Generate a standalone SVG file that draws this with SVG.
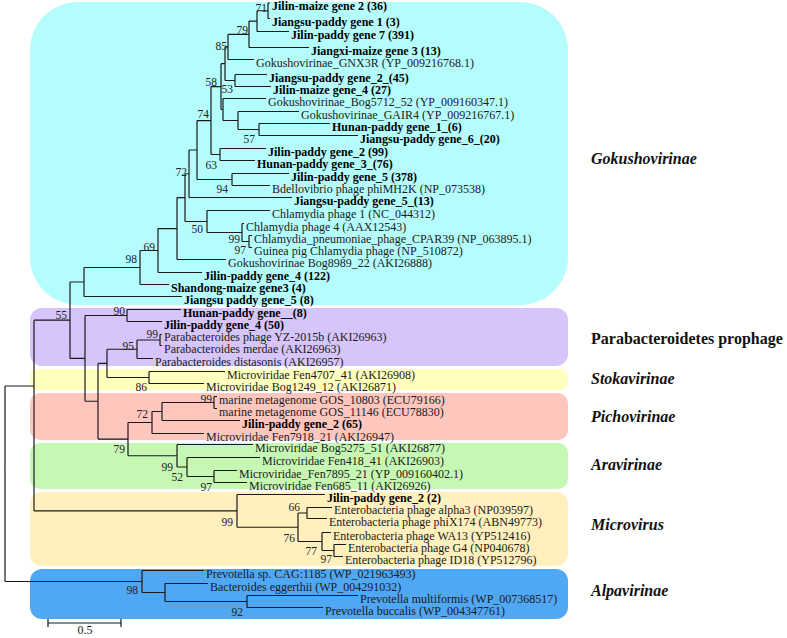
<svg xmlns="http://www.w3.org/2000/svg" width="787" height="638" viewBox="0 0 787 638">
<style>
.t{font-family:"Liberation Serif","Times New Roman",serif;font-size:12px;fill:#1a1a1a}
.b{font-weight:bold;fill:#000}
.bs{font-family:"Liberation Serif","Times New Roman",serif;font-size:11.5px;fill:#222;text-anchor:end}
.cl{font-family:"Liberation Serif","Times New Roman",serif;font-size:16px;font-weight:bold;font-style:italic;fill:#111}
.br{fill:none;stroke:#1a1a1a;stroke-width:1.2}
</style>
<rect width="787" height="638" fill="#fff"/>
<g id="clades">
<g id="clade-gokushovirinae"><rect x="30" y="2" width="538" height="303" rx="48" fill="#b5fdfd"/><text class="cl" x="591" y="164">Gokushovirinae</text></g>
<g id="clade-parabacteroidetes"><rect x="30" y="308" width="538" height="58" rx="12" fill="#d5c5fb"/><text class="cl" x="591" y="344" style="font-style:normal">Parabacteroidetes  prophage</text></g>
<g id="clade-stokavirinae"><rect x="30" y="369" width="538" height="21" rx="8" fill="#ffffbe"/><text class="cl" x="591" y="384">Stokavirinae</text></g>
<g id="clade-pichovirinae"><rect x="30" y="393" width="538" height="47" rx="10" fill="#ffc6be"/><text class="cl" x="591" y="422">Pichovirinae</text></g>
<g id="clade-aravirinae"><rect x="30" y="443" width="538" height="46" rx="10" fill="#c6f8b4"/><text class="cl" x="591" y="470">Aravirinae</text></g>
<g id="clade-microvirus"><rect x="30" y="492" width="538" height="74" rx="12" fill="#fff0be"/><text class="cl" x="591" y="530">Microvirus</text></g>
<g id="clade-alpavirinae"><rect x="30" y="569" width="538" height="50" rx="12" fill="#50a8f5"/><text class="cl" x="591" y="596">Alpavirinae</text></g>
</g>
<g id="connectors" class="br">
<path class="br" d="M268,3V18.5M268,3H270M268,18.5H270
M257,10.75V31.5M257,10.75H268M257,31.5H289
M249,21.1V47.5M249,21.1H257M249,47.5H309
M228,34.3V59.5M228,34.3H249M228,59.5H254
M235,74.5V86.5M235,74.5H267M235,86.5H271
M225,46.9V80.5M225,46.9H228M225,80.5H235
M259,123.5V135.5M259,123.5H330M259,135.5H358
M238,111.5V129.5M238,111.5H299M238,129.5H259
M223,98.5V120.5M223,98.5H266M223,120.5H238
M221,63.7V109.5M221,63.7H225M221,109.5H223
M220,148.5V160.5M220,148.5H266M220,160.5H255
M211,86.6V154.5M211,86.6H221M211,154.5H220
M232,173.5V185.5M232,173.5H289M232,185.5H270
M197,120.55V179.5M197,120.55H211M197,179.5H232
M189,150V197.5M189,150H197M189,197.5H292
M249,235.5V247.5M249,235.5H252M249,247.5H252
M242,223.5V241.5M242,223.5H244M242,241.5H249
M207,210.5V232.5M207,210.5H270M207,232.5H242
M185,173.75V221.5M185,173.75H189M185,221.5H207
M177,197.6V259.5M177,197.6H185M177,259.5H226
M158,228.55V272.5M158,228.55H177M158,272.5H202
M140,250.5V284.5M140,250.5H158M140,284.5H169
M84,267.5V296.5M84,267.5H140M84,296.5H182
M127,309.5V321.5M127,309.5H181M127,321.5H162
M160,334.5V345.5M160,334.5H162M160,345.5H162
M137,340V358.5M137,340H160M137,358.5H153
M149,371.5V383.5M149,371.5H225M149,383.5H204
M107,349.25V377.5M107,349.25H137M107,377.5H149
M214,396.5V408.5M214,396.5H217M214,408.5H217
M162,402.5V420.5M162,402.5H214M162,420.5H240
M152,411.5V433.5M152,411.5H162M152,433.5H204
M214,470.5V482.5M214,470.5H237M214,482.5H247
M187,457.5V476.5M187,457.5H260M187,476.5H214
M177,444.5V467M177,444.5H253M177,467H187
M128,422.5V455.75M128,422.5H152M128,455.75H177
M98,363.4V439.1M98,363.4H107M98,439.1H128
M85,315.5V401.25M85,315.5H127M85,401.25H98
M70,282V358.4M70,282H84M70,358.4H85
M307,507.5V518.5M307,507.5H332M307,518.5H327
M334,544.5V556.5M334,544.5H346M334,556.5H343
M322,532.5V550.5M322,532.5H331M322,550.5H334
M298,513V541.5M298,513H307M298,541.5H322
M237,494.5V527.25M237,494.5H325M237,527.25H298
M34,320.2V510.9M34,320.2H70M34,510.9H237
M247,595.5V607.5M247,595.5H358M247,607.5H323
M165,583.5V601.5M165,583.5H208M165,601.5H247
M142,570.5V592.5M142,570.5H204M142,592.5H165
M5,386V581.5M5,386H34M5,581.5H142"/>
</g>
<g id="leaves" class="t">
<g id="n0"><text class="t b" x="272" y="10">Jilin-maize gene 2 (36)</text></g>
<g id="n1"><text class="t b" x="272" y="25.5">Jiangsu-paddy gene 1 (3)</text></g>
<g id="n2"><text class="t b" x="291" y="38.5">Jilin-paddy gene 7 (391)</text></g>
<g id="n3"><text class="t b" x="311" y="54.5">Jiangxi-maize gene 3 (13)</text></g>
<g id="n4"><text class="t" x="256" y="66.5">Gokushovirinae_GNX3R (YP_009216768.1)</text></g>
<g id="n5"><text class="t b" x="269" y="81.5">Jiangsu-paddy gene_2_(45)</text></g>
<g id="n6"><text class="t b" x="273" y="93.5">Jilin-maize gene_4 (27)</text></g>
<g id="n7"><text class="t" x="268" y="105.5">Gokushovirinae_Bog5712_52 (YP_009160347.1)</text></g>
<g id="n8"><text class="t" x="301" y="118.5">Gokushovirinae_GAIR4 (YP_009216767.1)</text></g>
<g id="n9"><text class="t b" x="332" y="130.5">Hunan-paddy gene_1_(6)</text></g>
<g id="n10"><text class="t b" x="360" y="142.5">Jiangsu-paddy gene_6_(20)</text></g>
<g id="n11"><text class="t b" x="268" y="155.5">Jilin-paddy gene_2 (99)</text></g>
<g id="n12"><text class="t b" x="257" y="167.5">Hunan-paddy gene_3_(76)</text></g>
<g id="n13"><text class="t b" x="291" y="180.5">Jilin-paddy gene_5 (378)</text></g>
<g id="n14"><text class="t" x="272" y="192.5">Bdellovibrio phage phiMH2K (NP_073538)</text></g>
<g id="n15"><text class="t b" x="294" y="204.5">Jiangsu-paddy gene_5_(13)</text></g>
<g id="n16"><text class="t" x="272" y="217.5">Chlamydia phage 1 (NC_044312)</text></g>
<g id="n17"><text class="t" x="246" y="230.5">Chlamydia phage 4 (AAX12543)</text></g>
<g id="n18"><text class="t" x="254" y="242.5">Chlamydia_pneumoniae_phage_CPAR39 (NP_063895.1)</text></g>
<g id="n19"><text class="t" x="254" y="254.5">Guinea pig Chlamydia phage (NP_510872)</text></g>
<g id="n20"><text class="t" x="228" y="266.5">Gokushovirinae Bog8989_22 (AKI26888)</text></g>
<g id="n21"><text class="t b" x="204" y="279.5">Jilin-paddy gene_4 (122)</text></g>
<g id="n22"><text class="t b" x="171" y="291.5">Shandong-maize gene3 (4)</text></g>
<g id="n23"><text class="t b" x="184" y="303.5">Jiangsu paddy gene_5 (8)</text></g>
<g id="n24"><text class="t b" x="183" y="316.5">Hunan-paddy gene__(8)</text></g>
<g id="n25"><text class="t b" x="164" y="328.5">Jilin-paddy gene_4 (50)</text></g>
<g id="n26"><text class="t" x="164" y="341">Parabacteroides phage YZ-2015b (AKI26963)</text></g>
<g id="n27"><text class="t" x="164" y="353">Parabacteroides merdae (AKI26963)</text></g>
<g id="n28"><text class="t" x="155" y="365.5">Parabacteroides distasonis (AKI26957)</text></g>
<g id="n29"><text class="t" x="227" y="378.5">Microviridae Fen4707_41 (AKI26908)</text></g>
<g id="n30"><text class="t" x="206" y="390.5">Microviridae Bog1249_12 (AKI26871)</text></g>
<g id="n31"><text class="t" x="219" y="403.5">marine metagenome GOS_10803 (ECU79166)</text></g>
<g id="n32"><text class="t" x="219" y="415.5">marine metagenome GOS_11146 (ECU78830)</text></g>
<g id="n33"><text class="t b" x="242" y="427.5">Jilin-paddy gene_2 (65)</text></g>
<g id="n34"><text class="t" x="206" y="440.5">Microviridae Fen7918_21 (AKI26947)</text></g>
<g id="n35"><text class="t" x="255" y="451.5">Microviridae Bog5275_51 (AKI26877)</text></g>
<g id="n36"><text class="t" x="262" y="464.5">Microviridae Fen418_41 (AKI26903)</text></g>
<g id="n37"><text class="t" x="239" y="477.5">Microviridae_Fen7895_21 (YP_009160402.1)</text></g>
<g id="n38"><text class="t" x="249" y="489.5">Microviridae Fen685_11 (AKI26926)</text></g>
<g id="n39"><text class="t b" x="327" y="501.5">Jilin-paddy gene_2 (2)</text></g>
<g id="n40"><text class="t" x="334" y="514">Enterobacteria phage alpha3 (NP039597)</text></g>
<g id="n41"><text class="t" x="329" y="526">Enterobacteria phage phiX174 (ABN49773)</text></g>
<g id="n42"><text class="t" x="333" y="539.5">Enterobacteria phage WA13 (YP512416)</text></g>
<g id="n43"><text class="t" x="348" y="551.5">Enterobacteria phage G4 (NP040678)</text></g>
<g id="n44"><text class="t" x="345" y="563.5">Enterobacteria phage ID18 (YP512796)</text></g>
<g id="n45"><text class="t" x="206" y="577.5">Prevotella sp. CAG:1185 (WP_021963493)</text></g>
<g id="n46"><text class="t" x="210" y="590.5">Bacteroides eggerthii (WP_004291032)</text></g>
<g id="n47"><text class="t" x="360" y="602.5">Prevotella multiformis (WP_007368517)</text></g>
<g id="n48"><text class="t" x="325" y="614.5">Prevotella buccalis (WP_004347761)</text></g>
</g>
<g id="bootstrap" class="bs">
<text class="bs" x="267" y="12">71</text>
<text class="bs" x="248" y="34">79</text>
<text class="bs" x="227" y="50">85</text>
<text class="bs" x="217" y="86">58</text>
<text class="bs" x="233" y="93">53</text>
<text class="bs" x="209" y="118">74</text>
<text class="bs" x="255" y="143">57</text>
<text class="bs" x="217" y="169">63</text>
<text class="bs" x="187" y="176">72</text>
<text class="bs" x="228" y="193">94</text>
<text class="bs" x="203" y="233">50</text>
<text class="bs" x="240" y="243">99</text>
<text class="bs" x="246" y="254">97</text>
<text class="bs" x="155" y="251">69</text>
<text class="bs" x="137" y="263">98</text>
<text class="bs" x="67" y="319">55</text>
<text class="bs" x="125" y="315">90</text>
<text class="bs" x="158" y="338">99</text>
<text class="bs" x="134" y="350">95</text>
<text class="bs" x="147" y="391">86</text>
<text class="bs" x="212" y="403">99</text>
<text class="bs" x="148" y="418">72</text>
<text class="bs" x="125" y="453">79</text>
<text class="bs" x="173" y="471">99</text>
<text class="bs" x="183" y="481">52</text>
<text class="bs" x="212" y="491">97</text>
<text class="bs" x="300" y="511">66</text>
<text class="bs" x="233" y="526">99</text>
<text class="bs" x="295" y="542">76</text>
<text class="bs" x="317" y="555">77</text>
<text class="bs" x="332" y="563">97</text>
<text class="bs" x="138" y="594">98</text>
<text class="bs" x="243" y="616">92</text>
</g>
<g id="scale">
<path class="br" d="M48,623H121M48,619V627M121,619V627"/>
<text class="t" x="85" y="634" text-anchor="middle">0.5</text>
</g>
</svg>
